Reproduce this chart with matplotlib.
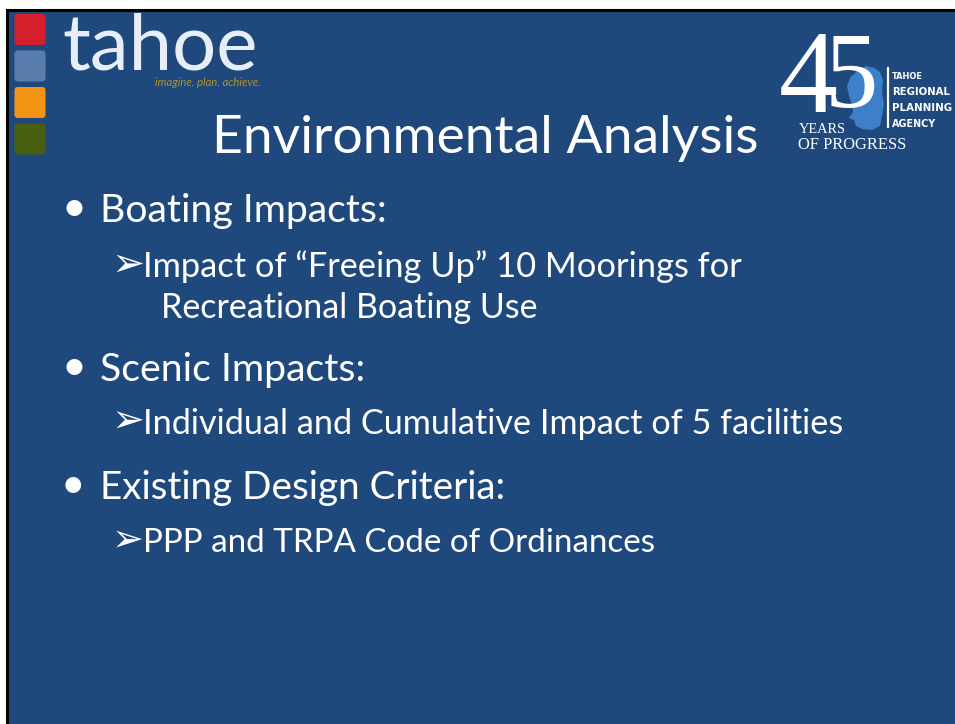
import matplotlib
matplotlib.use("Agg")
import matplotlib.pyplot as plt
from matplotlib.patches import Rectangle, FancyBboxPatch, Polygon

# slide content
title = "Environmental Analysis"
main_points = ["Boating Impacts:", "Scenic Impacts:", "Existing Design Criteria:"]
main_baselines = [222, 381, 499]
main_widths = [286, 266, 406]

sub_points = ["Impact of \u201cFreeing Up\u201d 10 Moorings for",
              "Individual and Cumulative Impact of 5 facilities",
              "PPP and TRPA Code of Ordinances"]
sub_baselines = [277, 434, 552]
sub_widths = [599, 704, 512]
wrap_line = "Recreational Boating Use"

square_colors = ["#d3202a", "#5a7eab", "#f39514", "#4a5e12"]
agency_lines = ["TAHOE", "REGIONAL", "PLANNING", "AGENCY"]
agency_widths = [31, 58, 60, 44]
lake_outline = [(858, 70), (866, 66), (874, 68), (880, 72), (883, 80), (882, 92),
                (884, 104), (882, 116), (880, 126), (872, 130), (862, 129),
                (856, 126), (854, 120), (849, 118), (853, 112), (852, 104),
                (849, 96), (847, 86), (850, 78)]

bg = "#1f497d"
body_font = ["Lato", "DejaVu Sans"]
serif = ["Liberation Serif", "DejaVu Serif"]

fig = plt.figure(figsize=(9.55, 7.24), dpi=100, facecolor="white")
ax = fig.add_axes([0, 0, 1, 1])
ax.set_xlim(0, 955)
ax.set_ylim(724, 0)
ax.axis("off")
renderer = fig.canvas.get_renderer()


def fit(s, x, y, w, **kw):
    t = ax.text(x, y, s, fontsize=20, ha="left", va="baseline", **kw)
    bb = t.get_window_extent(renderer)
    t.set_fontsize(20 * w / bb.width)
    return t


# background panel and border
ax.add_patch(Rectangle((7, 10), 948, 714, facecolor=bg, edgecolor="none"))
ax.plot([6.5, 955], [10, 10], color="black", lw=2.2)
ax.plot([6.5, 6.5], [10, 724], color="black", lw=2.2)

# colour squares
for i, c in enumerate(square_colors):
    y0 = 14 + i * 36.5
    ax.add_patch(FancyBboxPatch((14.5, y0), 31, 31,
                                boxstyle="round,pad=0,rounding_size=3.5",
                                facecolor=c, edgecolor="none"))

# tahoe wordmark
fit("tahoe", 62, 70, 196, color="#e8eef7", family=body_font)
fit("imagine. plan. achieve.", 155, 86, 106, color="#b0922a",
    family=body_font, fontstyle="italic")

# 45 years logo
ax.text(779, 112, "4", fontsize=85, color="white", family=serif,
        ha="left", va="baseline")
ax.text(825, 107, "5", fontsize=77, color="white", family=serif,
        ha="left", va="baseline")
ax.add_patch(Polygon(lake_outline, closed=True, facecolor="#3d80c8",
                     edgecolor="none"))
ax.plot([888, 888], [68, 127], color="white", lw=1.6)
for i, s in enumerate(agency_lines):
    fit(s, 892, 79 + i * 16, agency_widths[i], color="white",
        family=["Liberation Sans Narrow", "DejaVu Sans"], fontweight="bold")
fit("YEARS", 799, 133, 47, color="white", family=serif)
fit("OF PROGRESS", 798, 149, 109, color="white", family=serif)

# title
fit(title, 212, 153, 548, color="white", family=body_font)

# bullets
for s, y, w in zip(main_points, main_baselines, main_widths):
    t = fit(s, 100, y, w, color="white", family=body_font)
    ax.text(61, y - 1, "\u2022", fontsize=t.get_fontsize() * 1.1, color="white",
            family=body_font, ha="left", va="baseline")

for s, y, w in zip(sub_points, sub_baselines, sub_widths):
    t = fit(s, 143, y, w, color="white", family=body_font)
    ax.text(112, y - 1, "\u27a2", fontsize=t.get_fontsize() * 1.15, color="white",
            family=["DejaVu Sans"], ha="left", va="baseline")

fit(wrap_line, 161, 318, 377, color="white", family=body_font)

fig.savefig("out.png", dpi=100, facecolor="white")
